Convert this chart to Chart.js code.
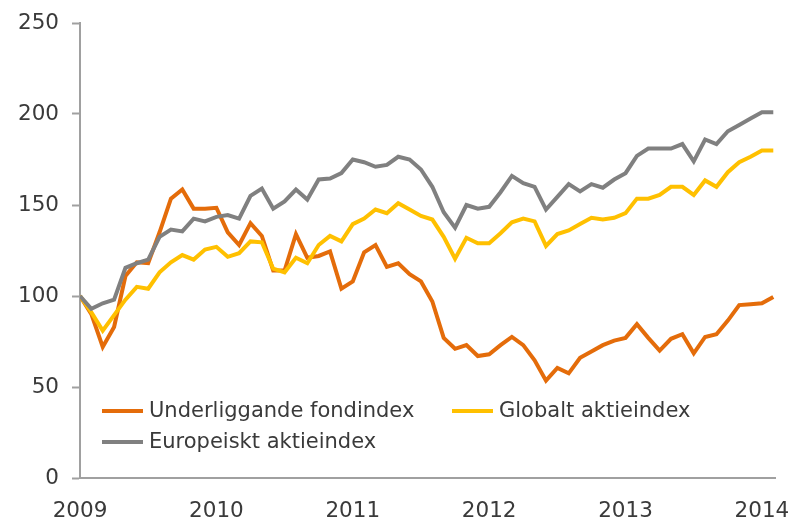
<!DOCTYPE html>
<html>
<head>
<meta charset="utf-8">
<script src="https://cdn.jsdelivr.net/npm/chart.js@4/dist/chart.umd.min.js"></script>
<style>
html,body{margin:0;padding:0;background:#fff;}
#wrap{position:relative;width:802px;height:524px;}
</style>
</head>
<body>
<div id="wrap"><canvas id="c" width="802" height="524"></canvas></div>
<script>
const startYear = 2009;
const yearLabels = ['2009','2010','2011','2012','2013','2014'];
const yTicks = [0, 50, 100, 150, 200, 250];
const seriesNames = ['Underliggande fondindex', 'Globalt aktieindex', 'Europeiskt aktieindex'];

const underliggande = [100,90,72,83,111,118.5,118,135,153.5,158.5,148,148,148.5,135,128,140,133,114,114,134,121,122,124.5,104,108,124,128,116,118,112,108,97,77,71,73,67,68,73,77.5,73,64.7,53.5,60.5,57.5,66,69.5,73,75.5,77,84.5,77,70,76.5,79,68.5,77.5,79,86.5,95,95.5,96,99.5];
const globalt = [100,91,81,89.5,98,105,104,113,118.5,122.5,120,125.5,127,121.5,123.5,130,129.5,115,113,121,118,128,133,130,139.5,142.5,147.5,145.5,151,147.5,144,142,132.5,120.5,132,129,129,134.5,140.5,142.5,141,127.5,134,136,139.5,143,142,143,145.5,153.5,153.5,155.5,160,160,155.5,163.5,160,168,173.5,176.5,180,180];
const europeiskt = [100,93,96,98,115.5,118,120,132.5,136.5,135.5,142.5,141,143.5,144.5,142.5,155,159,148,152,158.5,153,164,164.5,167.5,175,173.5,171,172,176.5,175,169.5,160,146,137.5,150,148,149,157,166,162,160,147.5,154.5,161.5,157.5,161.5,159.5,164,167.5,177,181,181,181,183.5,174,186,183.5,190.5,194,197.5,201,201];

const colors = ['#E46C0A', '#FFC000', '#808080'];
const allSeries = [underliggande, globalt, europeiskt];

const FONT = '"DejaVu Sans", sans-serif';
const TEXT_COLOR = '#3a3a3a';

const legendPlugin = {
  id: 'customLegend',
  afterDraw(chart) {
    const ctx = chart.ctx;
    const a = chart.chartArea;
    const items = [
      {i:0, x: a.left + 22, y: a.bottom - 67},
      {i:1, x: a.left + 372, y: a.bottom - 67},
      {i:2, x: a.left + 22, y: a.bottom - 36}
    ];
    ctx.save();
    ctx.font = '21px ' + FONT;
    ctx.textBaseline = 'middle';
    ctx.textAlign = 'left';
    items.forEach(it => {
      const ds = chart.data.datasets.find(d => d.label === seriesNames[it.i]);
      ctx.strokeStyle = ds.borderColor;
      ctx.lineWidth = 4;
      ctx.beginPath();
      ctx.moveTo(it.x, it.y);
      ctx.lineTo(it.x + 41, it.y);
      ctx.stroke();
      ctx.fillStyle = TEXT_COLOR;
      ctx.fillText(ds.label, it.x + 47, it.y + 1);
    });
    ctx.restore();
  }
};

// draw order: grey first, then yellow, orange on top
const drawOrder = [2, 1, 0];
const datasets = drawOrder.map(k => ({
  label: seriesNames[k],
  data: allSeries[k].map((v, i) => ({x: i, y: v})),
  borderColor: colors[k],
  backgroundColor: colors[k],
  borderWidth: 4,
  pointRadius: 0,
  tension: 0,
  fill: false
}));

new Chart(document.getElementById('c'), {
  type: 'line',
  data: { datasets: datasets },
  options: {
    responsive: false,
    animation: false,
    layout: { padding: { top: 23, right: 27, left: 0, bottom: 0 } },
    plugins: { legend: { display: false }, tooltip: { enabled: false } },
    scales: {
      x: {
        type: 'linear',
        min: 0,
        max: 61.15,
        afterBuildTicks: s => { s.ticks = yearLabels.map((_, i) => ({value: i * 12})); },
        afterFit: s => { s.height = 46; s.paddingLeft = 0; s.paddingRight = 0; },
        grid: { display: false, drawOnChartArea: false, drawTicks: true, tickLength: 8, tickColor: '#A0A0A0', tickWidth: 2 },
        border: { display: true, color: '#A0A0A0', width: 2 },
        ticks: {
          font: { family: FONT, size: 21.5 },
          color: TEXT_COLOR,
          padding: 13,
          maxRotation: 0,
          autoSkip: false,
          callback: v => yearLabels[Math.round(v / 12)]
        }
      },
      y: {
        min: 0,
        max: 250,
        afterBuildTicks: s => { s.ticks = yTicks.map(v => ({value: v})); },
        afterFit: s => { s.width = 80; s.paddingTop = 0; s.paddingBottom = 0; },
        grid: { display: true, drawOnChartArea: false, drawTicks: true, tickLength: 8, tickColor: '#A0A0A0', tickWidth: 2 },
        border: { display: true, color: '#A0A0A0', width: 2 },
        ticks: {
          font: { family: FONT, size: 21.5 },
          color: TEXT_COLOR,
          padding: 13
        }
      }
    }
  },
  plugins: [legendPlugin]
});
</script>
</body>
</html>
